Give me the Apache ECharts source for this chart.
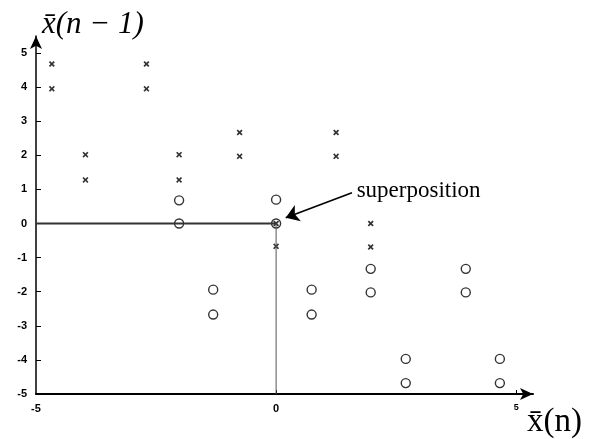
<!DOCTYPE html>
<html>
<head>
<meta charset="utf-8">
<script src="https://cdn.jsdelivr.net/npm/echarts@6/dist/echarts.min.js"></script>
<style>
  html, body { margin: 0; padding: 0; background: #fff; }
  #chart { width: 596px; height: 439px; }
</style>
</head>
<body>
<div id="chart"></div>
<script>
// Points of the return map: x̄(n) on the horizontal, x̄(n-1) on the vertical.
const crossPoints = [
  [-4.67, 4.68], [-4.67, 3.95],
  [-3.97, 2.02], [-3.97, 1.28],
  [-2.70, 4.68], [-2.70, 3.95],
  [-2.02, 2.02], [-2.02, 1.28],
  [-0.76, 2.67], [-0.76, 1.97],
  [0.00, 0.00], [0.00, -0.67],
  [1.25, 2.67], [1.25, 1.97],
  [1.97, 0.00], [1.97, -0.69]
];
const circlePoints = [
  [-2.02, 0.68], [-2.02, 0.00],
  [-1.31, -1.94], [-1.31, -2.67],
  [0.00, 0.70], [0.00, 0.00],
  [0.74, -1.94], [0.74, -2.67],
  [1.97, -1.33], [1.97, -2.02],
  [3.95, -1.33], [3.95, -2.02],
  [2.70, -3.97], [2.70, -4.68],
  [4.66, -3.97], [4.66, -4.68]
];
// Guide lines through the superposed point
const horizontalGuide = [[-5, 0], [0, 0]];
const verticalGuide = [[0, 0], [0, -5]];
// Annotation arrow: tip near the superposed point, tail under the text
const noteArrow = [[0.2, 0.17], [1.58, 0.9]];
const noteText = 'superposition';

const xTickLabels = [-5, 0, 5];
const xTickMarks = [0, 5];
const yTickLabels = [-5, -4, -3, -2, -1, 0, 1, 2, 3, 4, 5];

// Small bold "x" marker
const crossSymbol = 'path://M0,2L2,0L5,3L8,0L10,2L7,5L10,8L8,10L5,7L2,10L0,8L3,5Z';

const chart = echarts.init(document.getElementById('chart'), null, { renderer: 'canvas' });
chart.setOption({
  animation: false,
  backgroundColor: '#ffffff',
  grid: { left: 36, right: 63, top: 36, bottom: 45, containLabel: false },
  xAxis: {
    type: 'value',
    min: -5, max: 5.35,
    splitLine: { show: false },
    axisLine: {
      onZero: false,
      lineStyle: { color: '#000', width: 2 },
      symbol: ['none', 'arrow'],
      symbolSize: [9, 13]
    },
    axisTick: { inside: true, length: 4, customValues: xTickMarks, lineStyle: { color: '#000' } },
    axisLabel: {
      customValues: xTickLabels,
      margin: 9,
      color: '#000',
      fontFamily: 'Liberation Sans, Arial, sans-serif',
      fontWeight: 'bold',
      fontSize: 11,
      formatter: v => (v === 5 ? '{s|5}' : String(v)),
      rich: { s: { fontSize: 9, fontWeight: 'bold', fontFamily: 'Liberation Sans, Arial, sans-serif', padding: [0, 0, 6, 0] } }
    },
    name: 'x\u0304(n)',
    nameLocation: 'end',
    nameGap: -6,
    nameTextStyle: {
      fontFamily: 'Liberation Serif, Times New Roman, serif',
      fontSize: 33,
      color: '#000',
      align: 'left',
      verticalAlign: 'top',
      padding: [12, 0, 0, 0]
    }
  },
  yAxis: {
    type: 'value',
    min: -5, max: 5.5,
    splitLine: { show: false },
    axisLine: {
      onZero: false,
      lineStyle: { color: '#000', width: 1.5 },
      symbol: ['none', 'arrow'],
      symbolSize: [9, 13]
    },
    axisTick: { inside: true, length: 5, customValues: yTickLabels, lineStyle: { color: '#000' } },
    axisLabel: {
      customValues: yTickLabels,
      margin: 9,
      color: '#000',
      fontFamily: 'Liberation Sans, Arial, sans-serif',
      fontWeight: 'bold',
      fontSize: 11
    },
    name: 'x\u0304(n \u2212 1)',
    nameLocation: 'end',
    nameGap: -4,
    nameTextStyle: {
      fontFamily: 'Liberation Serif, Times New Roman, serif',
      fontStyle: 'italic',
      fontSize: 31,
      color: '#000',
      align: 'left',
      padding: [0, 0, 0, 6]
    }
  },
  series: [
    {
      type: 'line',
      data: horizontalGuide,
      symbol: 'none',
      silent: true,
      lineStyle: { color: '#333', width: 2 }
    },
    {
      type: 'line',
      data: verticalGuide,
      symbol: 'none',
      silent: true,
      lineStyle: { color: '#555', width: 1 }
    },
    {
      type: 'scatter',
      data: circlePoints,
      symbol: 'circle',
      symbolSize: 9,
      itemStyle: { color: '#fff', borderColor: '#000', borderWidth: 1.4 }
    },
    {
      type: 'scatter',
      data: crossPoints,
      symbol: crossSymbol,
      symbolSize: 6,
      itemStyle: { color: '#000' },
      markLine: {
        silent: true,
        symbol: ['arrow', 'none'],
        symbolSize: 13,
        lineStyle: { color: '#000', width: 1.6, type: 'solid' },
        label: {
          show: true,
          position: 'end',
          formatter: noteText,
          color: '#000',
          fontFamily: 'Liberation Serif, Times New Roman, serif',
          fontSize: 23,
          padding: [0, 0, 4, 0]
        },
        data: [[{ coord: noteArrow[0] }, { coord: noteArrow[1] }]]
      }
    }
  ]
});
</script>
</body>
</html>
